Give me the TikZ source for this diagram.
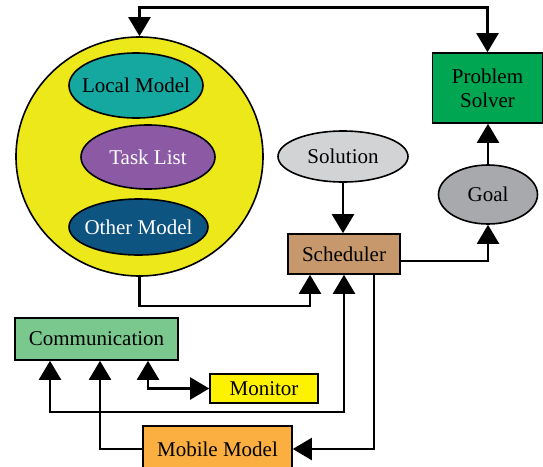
\documentclass[tikz,border=0pt]{standalone}
\usepackage{fontspec}
\setmainfont{Liberation Serif}
\usetikzlibrary{arrows.meta,shapes.geometric}
\definecolor{bigyellow}{RGB}{236,232,26}
\definecolor{localteal}{RGB}{20,168,160}
\definecolor{taskpurple}{RGB}{140,90,165}
\definecolor{otherblue}{RGB}{14,84,128}
\definecolor{solgray}{RGB}{210,211,213}
\definecolor{goalgray}{RGB}{167,169,172}
\definecolor{solvergreen}{RGB}{0,166,81}
\definecolor{schedtan}{RGB}{198,152,108}
\definecolor{commgreen}{RGB}{122,200,142}
\definecolor{monyellow}{RGB}{255,242,0}
\definecolor{mobileorange}{RGB}{251,175,64}

\begin{document}
\begin{tikzpicture}[x=1pt,y=-1pt,
  every node/.style={font=\fontsize{21}{24}\selectfont},
  oval/.style={ellipse,draw,line width=1.6pt,inner xsep=-10pt,inner ysep=0pt},
  blok/.style={rectangle,draw,line width=1.6pt,inner sep=0pt,align=center},
  oneway/.style={line width=2.2pt,-{Triangle[width=22pt,length=19pt]}},
  bothway/.style={line width=2.2pt,{Triangle[width=22pt,length=19pt]}-{Triangle[width=22pt,length=19pt]}}]
                \useasboundingbox (0,0) rectangle (543,466);
                \clip (0,0) rectangle (543,466);
                \node [oval,fill=bigyellow,minimum width=247pt,minimum height=239pt] (big) at (139.5,156.5) {};
                \node [oval,fill=localteal,minimum width=134pt,minimum height=65pt] (local) at (136,85.5) {Local Model};
                \node [oval,fill=taskpurple,text=white,minimum width=134pt,minimum height=64pt] (task) at (148,157) {Task List};
                \node [oval,fill=otherblue,text=white,minimum width=139pt,minimum height=56pt] (other) at (138.5,227) {Other Model};
                \node [oval,fill=solgray,minimum width=130pt,minimum height=51pt] (solution) at (343,156.5) {Solution};
                \node [oval,fill=goalgray,minimum width=99pt,minimum height=59pt] (goal) at (488,194.5) {Goal};
                \node [blok,fill=solvergreen,minimum width=110pt,minimum height=70pt] (solver) at (487.5,88) {Problem\\Solver};
                \node [blok,fill=schedtan,minimum width=112pt,minimum height=40pt] (sched) at (344,254) {Scheduler};
                \node [blok,fill=commgreen,minimum width=163pt,minimum height=42pt] (comm) at (96.5,339) {Communication};
                \node [blok,fill=monyellow,minimum width=108pt,minimum height=29pt] (monitor) at (264,388.5) {Monitor};
                \node [blok,fill=mobileorange,minimum width=149pt,minimum height=46pt] (mobile) at (217.5,449) {Mobile Model};
                \coordinate (topL) at (139.5,7.5);
                \coordinate (b1) at (310,306);
                \coordinate (c1) at (50,412);
                \coordinate (c2) at (148,389);
                \coordinate (c3) at (100,449);
                \coordinate (c4) at (374,447);
                \draw [bothway] (big.north) -- (topL) -| (solver.north);
                \draw [oneway] (solution.south) -- (solution.south |- sched.north);
                \draw [oneway] (goal.north) -- (goal.north |- solver.south);
                \draw [oneway] ([yshift=-7pt]sched.east) -| (goal.south);
                \draw [oneway] (big.south) |- (b1) -- (b1 |- sched.south);
                \draw [bothway] (c1 |- comm.south) -- (c1) -| (sched.south);
                \draw [bothway] (c2 |- comm.south) |- (monitor.west);
                \draw [oneway] (mobile.west) -- (c3) -- (c3 |- comm.south);
                \draw [oneway] (c4 |- sched.south) |- (mobile.east);
            \end{tikzpicture}
\end{document}
